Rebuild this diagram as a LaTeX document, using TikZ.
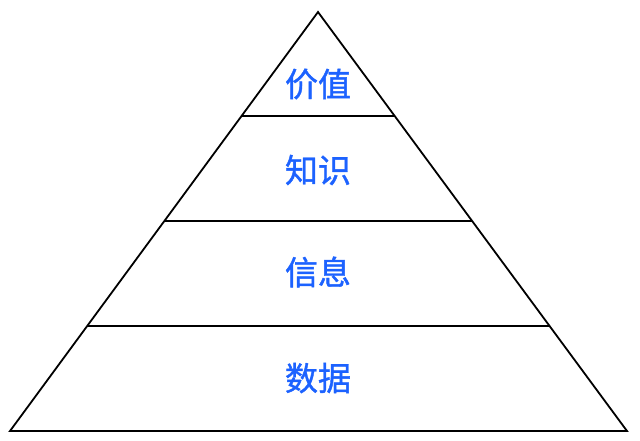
\documentclass[tikz,border=0pt]{standalone}
\usepackage{fontspec}
\usetikzlibrary{calc}
\newfontfamily\cjk[FakeBold=1.2]{Noto Sans CJK SC}
\definecolor{lbl}{RGB}{28,98,255}
\begin{document}
\begin{tikzpicture}[x=1pt,y=-1pt,
  edge/.style={draw=black,line width=1.8pt,line join=miter},
  lab/.style={text=lbl,font=\cjk\fontsize{33}{33}\selectfont,inner sep=0pt}]
\useasboundingbox (0,0) rectangle (640,440);
\coordinate (A) at (318,12);
\coordinate (L) at (10,431);
\coordinate (R) at (627,431);
\draw[edge] (A) -- (L) -- (R) -- cycle;
\foreach \yy/\nm in {116/a,221/b,326/c}{
  \coordinate (\nm l) at ($(A)!{(\yy-12)/419}!(L)$);
  \coordinate (\nm r) at ($(A)!{(\yy-12)/419}!(R)$);
  \draw[edge] (\nm l) -- (\nm r);
}
\node[lab] (t1) at (318,84) {价值};
\node[lab] (t2) at (318,170) {知识};
\node[lab] (t3) at (318,272) {信息};
\node[lab] (t4) at (318,378) {数据};
\end{tikzpicture}
\end{document}
